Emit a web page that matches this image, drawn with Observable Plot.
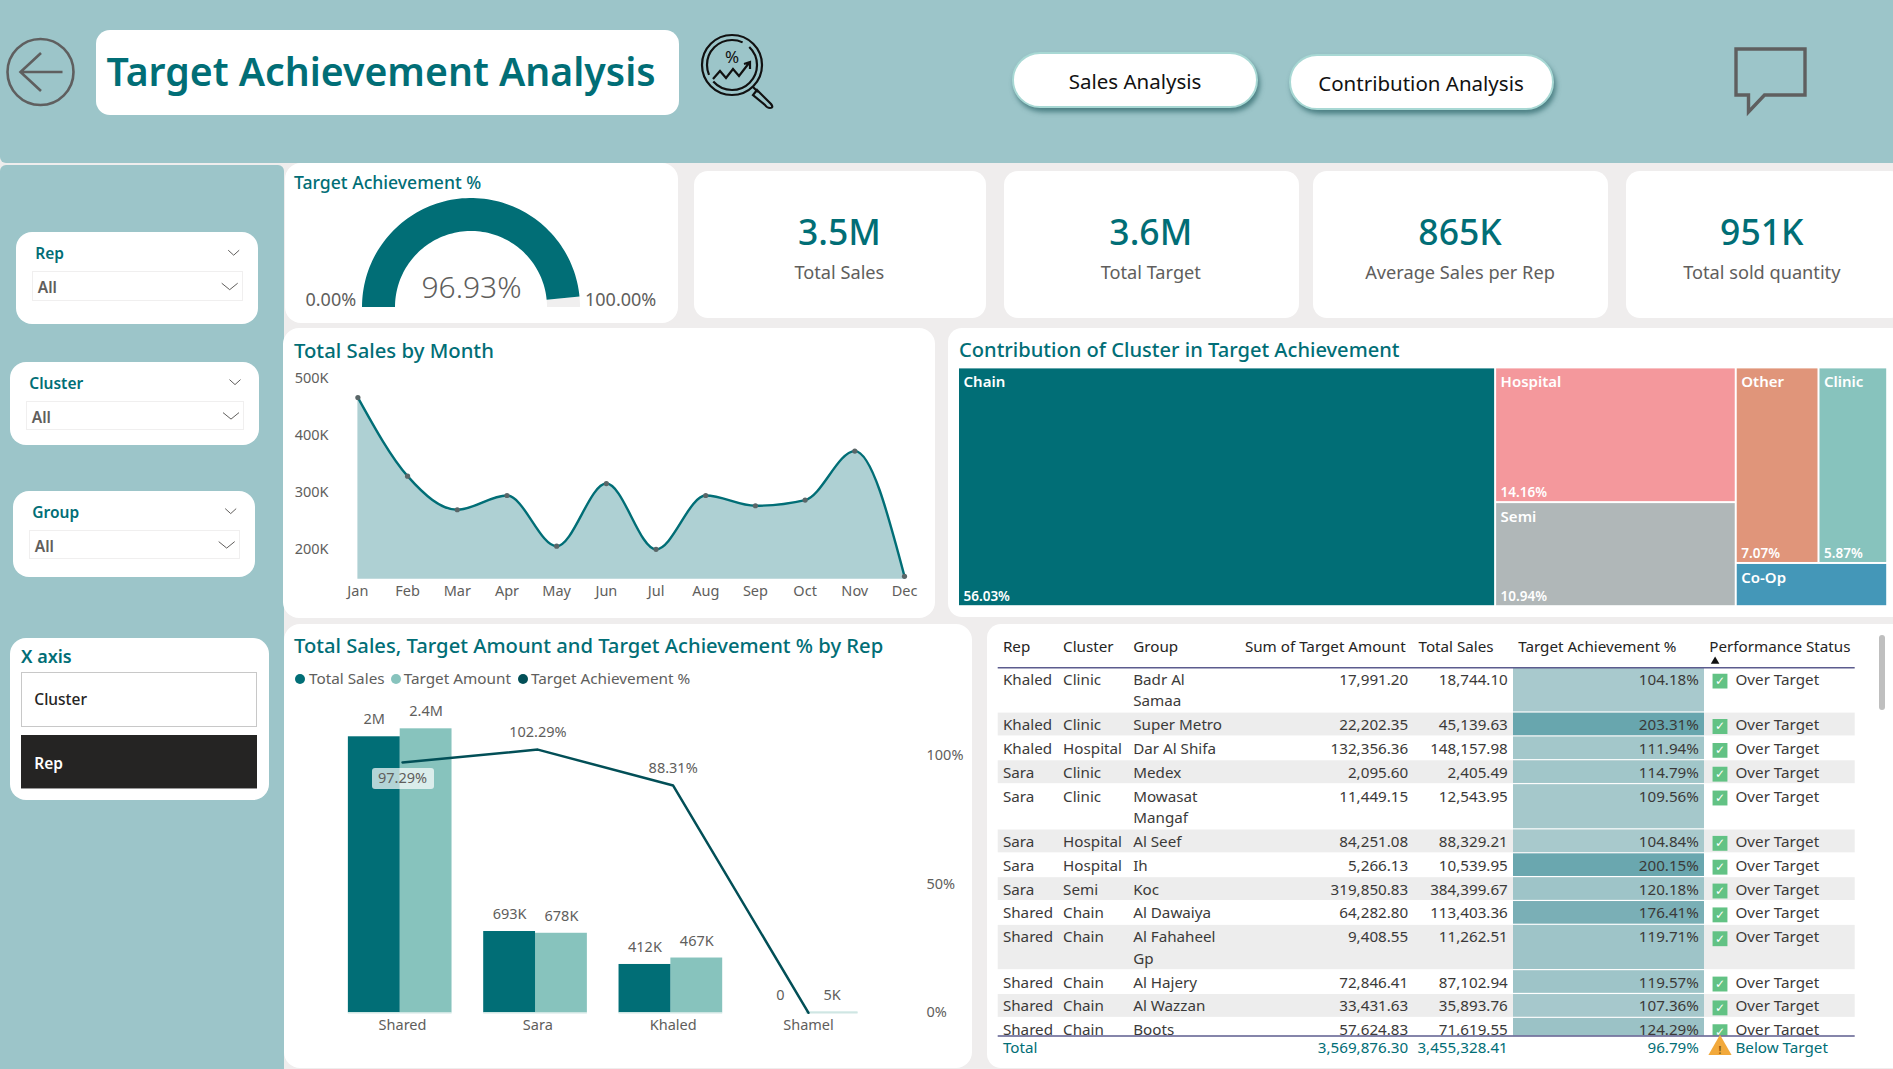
<!DOCTYPE html>
<html><head><meta charset="utf-8">
<script src="https://cdn.jsdelivr.net/npm/d3@7"></script>
<script src="https://cdn.jsdelivr.net/npm/@observablehq/plot@0.6"></script>
<style>
html,body{margin:0;padding:0;background:#efeded;overflow:hidden}
#page{position:relative;width:1893px;height:1069px;overflow:hidden;font-family:"Noto Sans",sans-serif}
.box{position:absolute;box-sizing:border-box}
.t{position:absolute;white-space:nowrap;line-height:1;transform:translateY(-50%)}
svg.plot{position:absolute;background:transparent;max-width:none}
</style></head><body><div id="page"></div>
<script>
// ---------- data ----------
const months=["Jan","Feb","Mar","Apr","May","Jun","Jul","Aug","Sep","Oct","Nov","Dec"];
const monthSales=[467000,329000,270000,295000,206000,316000,200500,295000,277000,287000,373000,153000];
const salesTicks=[200000,300000,400000,500000];
const reps=["Shared","Sara","Khaled","Shamel"];
const repSales=[2353000,693000,412000,0];
const repTarget=[2421000,678000,467000,5000];
const repSalesLabels=["2M","693K","412K","0"];
const repTargetLabels=["2.4M","678K","467K","5K"];
const repPct=[97.29,102.29,88.31,0];
const repPctLabels=["97.29%","102.29%","88.31%",""];
const pctTicks=[0,50,100];
const clusters=["Chain","Hospital","Semi","Other","Clinic","Co-Op"];
const clusterShare=[56.03,14.16,10.94,7.07,5.87,2.86];
const clusterLabels=["56.03%","14.16%","10.94%","7.07%","5.87%",""];
const gaugeValue=96.93, gaugeMin=0, gaugeMax=100;
const kpiValues=["3.5M","3.6M","865K","951K"];
const kpiNames=["Total Sales","Total Target","Average Sales per Rep","Total sold quantity"];
const tableHeaders=["Rep","Cluster","Group","Sum of Target Amount","Total Sales","Target Achievement %","Performance Status"];
const tRep=["Khaled","Khaled","Khaled","Sara","Sara","Sara","Sara","Sara","Shared","Shared","Shared","Shared","Shared"];
const tCluster=["Clinic","Clinic","Hospital","Clinic","Clinic","Hospital","Hospital","Semi","Chain","Chain","Chain","Chain","Chain"];
const tGroup=["Badr Al\nSamaa","Super Metro","Dar Al Shifa","Medex","Mowasat\nMangaf","Al Seef","Ih","Koc","Al Dawaiya","Al Fahaheel\nGp","Al Hajery","Al Wazzan","Boots"];
const tTarget=[17991.20,22202.35,132356.36,2095.60,11449.15,84251.08,5266.13,319850.83,64282.80,9408.55,72846.41,33431.63,57624.83];
const tSales=[18744.10,45139.63,148157.98,2405.49,12543.95,88329.21,10539.95,384399.67,113403.36,11262.51,87102.94,35893.76,71619.55];
const tPct=[104.18,203.31,111.94,114.79,109.56,104.84,200.15,120.18,176.41,119.71,119.57,107.36,124.29];
const tLines=[1.9,1,1,1,1.9,1,1,1,1,1.9,1,1,1];
const totalRow={target:3569876.30,sales:3455328.41,pct:96.79,status:"Below Target"};

// ---------- helpers ----------
const TEAL="#016e76",GRAY="#605e5c",BG="#9cc5c9",FONT='"Noto Sans",sans-serif';
const page=document.getElementById("page");
function box(x0,y0,x1,y1,css=""){const d=document.createElement("div");d.className="box";
 d.style.cssText=`left:${x0}px;top:${y0}px;width:${x1-x0}px;height:${y1-y0}px;${css}`;page.appendChild(d);return d;}
function card(x0,y0,x1,y1,r=14,extra=""){return box(x0,y0,x1,y1,`background:#fff;border-radius:${r}px;${extra}`);}
function txt(s,x,y,size,color,weight=400,anchor="left",extra=""){const d=document.createElement("div");d.className="t";d.textContent=s;
 const tx=anchor==="center"?"translate(-50%,-50%)":anchor==="right"?"translate(-100%,-50%)":"translateY(-50%)";
 d.style.cssText=`left:${x}px;top:${y}px;font-size:${size}px;color:${color};font-weight:${weight};transform:${tx};${extra}`;page.appendChild(d);return d;}
function place(opts,B){const p=Plot.plot({width:B.w,height:B.h,...opts,
 style:{background:"transparent",fontFamily:FONT,fontSize:"14.5px",color:GRAY,overflow:"visible",...(opts.style||{})}});
 p.style.left=B.x+"px";p.style.top=B.y+"px";p.style.position="absolute";page.appendChild(p);return p;}
function svgIcon(html){const w=document.createElement("div");w.innerHTML=`<svg xmlns="http://www.w3.org/2000/svg" width="1893" height="1069" style="position:absolute;left:0;top:0;pointer-events:none">${html}</svg>`;page.appendChild(w.firstChild);}

// ---------- frame ----------
box(0,0,1893,163,`background:${BG};border-radius:0 0 0 6px`);
box(0,165,284,1069,`background:${BG};border-radius:6px 6px 0 0`);
card(96,30,679,115,14);
txt("Target Achievement Analysis",106.5,71,39.2,TEAL,600);
svgIcon(`<g fill="none" stroke="#5f5f5f" stroke-width="2.6">
<circle cx="40.5" cy="72" r="33"/><path d="M62.5 72H21M41 53L20.5 72L41 91"/>
<path d="M1736 49H1805V95H1764.5L1748.5 112V95H1736Z" stroke-width="3.4"/></g>
<g fill="none" stroke="#111" stroke-width="2.2">
<circle cx="732" cy="65" r="30"/><circle cx="732" cy="65" r="25" stroke-dasharray="60 8"/>
<path d="M713 79L720 71L726 78L733 69L739 76L749 63M744 64L750 62L750 69"/>
<path d="M753 87L758 92M757 90L771 104Q774 108 770 108Q767 108 765 105L753 95Z"/>
<text x="732" y="63" font-size="17" font-family="Noto Sans" fill="#111" stroke="none" text-anchor="middle">%</text></g>`);
const pill="background:#fff;border-radius:28px;border:2px solid #a8d8d4;box-shadow:2px 4px 5px rgba(50,105,110,.75);";
box(1012,52,1258,108,pill);txt("Sales Analysis",1135,80.5,20.5,"#111",400,"center");
box(1288.5,53.6,1554,110,pill);txt("Contribution Analysis",1421,82.5,20.5,"#111",400,"center");

// ---------- slicers ----------
const slicers=[
 {n:"Rep",c:[16,232.2,258,324],b:[32.3,271.2,242.7,301.5]},
 {n:"Cluster",c:[10.3,361.9,259.3,444.6],b:[26.3,400.6,244,430.4]},
 {n:"Group",c:[13.3,490.5,255,576.6],b:[29.3,529.6,239.7,559.4]}];
let chev="";
slicers.forEach(s=>{const [x0,y0,x1,y1]=s.c,[a,b,c,d]=s.b;
 card(x0,y0,x1,y1,16);box(a,b,c,d,"border:1.5px solid #f0efef");
 txt(s.n,a+3,b-16.8,15.5,TEAL,600);txt("All",a+5.5,b+17,15.5,GRAY,600);
 chev+=`<path d="M${c-14.5} ${b-21}l5.5 5l5.5-5M${c-21} ${b+12}l8 6.5l8-6.5"/>`;});
svgIcon(`<g fill="none" stroke="#605e5c" stroke-width="1">${chev}</g>`);
card(10.3,637.9,268.7,800.5,16);
txt("X axis",21,655.6,18,TEAL,600);
box(21,672.3,256.7,726.6,"border:1.5px solid #c8c8c8");txt("Cluster",34.3,700,15.5,"#252423",500);
box(21,735,256.7,789.4,"background:#252423;border-bottom:1px solid #999");txt("Rep",34.3,763.5,15.5,"#fff",600);

// ---------- gauge ----------
card(285,163,677.6,323,16);
txt("Target Achievement %",294,182.5,17.6,TEAL,500);
const G={x:285,y:163,w:393,h:160};
const inner=76/109;
function arcPts(from,to,n=90){return d3.range(n+1).map(i=>{const v=from+(to-from)*i/n,a=Math.PI*(1-(v-gaugeMin)/(gaugeMax-gaugeMin));return {c:Math.cos(a),s:Math.sin(a)};});}
place({x:{domain:[-1,1],range:[362-G.x,580-G.x],axis:null},y:{domain:[0,1],range:[307-G.y,198-G.y],axis:null},
 marks:[
 Plot.area(arcPts(gaugeValue,gaugeMax,10),{x1:d=>d.c,y1:d=>d.s,x2:d=>d.c*inner,y2:d=>d.s*inner,fill:"#f0efef"}),
 Plot.area(arcPts(gaugeMin,gaugeValue),{x1:d=>d.c,y1:d=>d.s,x2:d=>d.c*inner,y2:d=>d.s*inner,fill:TEAL})
 ]},G);
txt(gaugeValue.toFixed(2)+"%",471.5,287,30,GRAY,300,"center");
txt(gaugeMin.toFixed(2)+"%",305.5,299.2,18,GRAY,400);
txt(gaugeMax.toFixed(2)+"%",585,299.2,18,GRAY,400);

// ---------- KPIs ----------
const kpiBoxes=[[694,986],[1003.5,1298.8],[1312.6,1607.8],[1625.9,1905]];
const kpiCenters=[839.4,1150.8,1460,1761.8];
kpiBoxes.forEach((b,i)=>{card(b[0],171,b[1],318,14);
 txt(kpiValues[i],kpiCenters[i],231.7,35.5,TEAL,500,"center");
 txt(kpiNames[i],kpiCenters[i],271.5,18.2,GRAY,400,"center");});

// ---------- month chart ----------
card(283.4,328,935,617.7,16);
txt("Total Sales by Month",294,349.5,20.3,TEAL,500);
const M={x:283,y:328,w:652,h:290};
const monthRows=months.map((m,i)=>({month:m,sales:monthSales[i]}));
place({x:{type:"point",padding:0,round:false,domain:months,range:[357.4-M.x,904-M.x],axis:null},
 y:{domain:[148000,500000],range:[578.7-M.y,378.3-M.y],axis:null},
 marginLeft:328-M.x,marginBottom:M.y+M.h-578.7,
 marks:[
 Plot.areaY(monthRows,{x:"month",y1:148000,y2:"sales",curve:"monotone-x",fill:"#aed0d3"}),
 Plot.lineY(monthRows,{x:"month",y:"sales",curve:"monotone-x",stroke:TEAL,strokeWidth:2.4}),
 Plot.dot(monthRows,{x:"month",y:"sales",r:2.6,fill:"#5a6668"}),
 Plot.axisY({ticks:salesTicks,tickFormat:d=>d/1000+"K",tickSize:0,tickPadding:0,label:null}),
 Plot.axisX({tickSize:0,tickPadding:6.5,label:null})
 ]},M);

// ---------- treemap ----------
card(948,328,1910,617,14);
txt("Contribution of Cluster in Target Achievement",959,350,20.1,TEAL,500);
const colors=["#016e76","#f4989c","#b0b7b8","#e0957a","#87c3bd","#4497b8"];
const leaf=n=>({name:n,value:clusterShare[clusters.indexOf(n)],label:clusterLabels[clusters.indexOf(n)],color:colors[clusters.indexOf(n)]});
const tree={children:[leaf("Chain"),{children:[leaf("Hospital"),leaf("Semi")]},{children:[{children:[leaf("Other"),leaf("Clinic")]},leaf("Co-Op")]}]};
const root=d3.hierarchy(tree).sum(d=>d.value||0);
d3.treemap().tile(d3.treemapSliceDice).size([1,1]).round(false)(root);
const leaves=root.leaves().map(n=>({...n.data,x0:n.x0,x1:n.x1,y0:n.y0,y1:n.y1}));
const T={x:950,y:360,w:943,h:254};
place({x:{domain:[0,1],range:[958-T.x,1887.2-T.x],axis:null},y:{domain:[0,1],range:[367.4-T.y,606.2-T.y],axis:null},
 style:{fontSize:"15px",color:"#fff"},
 marks:[
 Plot.rect(leaves,{x1:"x0",x2:"x1",y1:"y0",y2:"y1",fill:"color",inset:1}),
 Plot.text(leaves,{x:"x0",y:"y0",text:"name",textAnchor:"start",dx:5,dy:14.5,fill:"#fff",fontWeight:600,fontSize:15}),
 Plot.text(leaves,{x:"x0",y:"y1",text:"label",textAnchor:"start",dx:5,dy:-10.3,fill:"#fff",fontWeight:600,fontSize:13.5})
 ]},T);

// ---------- rep chart ----------
card(283.6,624,972,1068.3,16);
txt("Total Sales, Target Amount and Target Achievement % by Rep",294,644.5,20.2,TEAL,500);
const legend=[["Total Sales",300,309,TEAL],["Target Amount",395.6,403.7,"#87c3bd"],["Target Achievement %",522.9,530.9,"#024f57"]];
legend.forEach(l=>{box(l[1]-5,674,l[1]+5,684,`background:${l[3]};border-radius:50%`);txt(l[0],l[2],678.5,15.3,GRAY);});
const R={x:283,y:624,w:689,h:444};
const barUnit=0.383;
const salesBars=reps.map((r,i)=>({i,v:repSales[i],l:repSalesLabels[i],a:i-0.017-barUnit,b:i-0.017}));
const targetBars=reps.map((r,i)=>({i,v:repTarget[i],l:repTargetLabels[i],a:i-0.017,b:i-0.017+barUnit}));
const xOpt={domain:[0,3],range:[402-R.x,808-R.x],axis:null};
place({x:xOpt,y:{domain:[0,2500000],range:[1012.3-R.y,1012.3-293.25-R.y],axis:null},
 marginBottom:R.y+R.h-1012.3,
 marks:[
 Plot.rectY(targetBars,{x1:"a",x2:"b",y:"v",fill:"#87c3bd"}),
 Plot.rectY(salesBars,{x1:"a",x2:"b",y:"v",fill:TEAL}),
 Plot.ruleY(targetBars.concat(salesBars).filter(d=>d.v>0),{x1:"a",x2:"b",y:()=>0,stroke:"#cfe6e3",strokeWidth:1.6}),
 Plot.text(salesBars,{x:d=>(d.a+d.b)/2,y:"v",text:"l",dy:-17,fill:GRAY}),
 Plot.text(targetBars,{x:d=>(d.a+d.b)/2,y:"v",text:"l",dy:-17,fill:GRAY}),
 Plot.axisX({ticks:[0,1,2,3],tickFormat:i=>reps[i],tickSize:0,tickPadding:7,label:null})
 ]},R);
box(371.5,768.3,433.6,788.7,"background:rgba(255,255,255,.7);border-radius:3px");
const pctRows=reps.map((r,i)=>({i,v:repPct[i],l:repPctLabels[i]}));
place({x:xOpt,y:{domain:[0,100],range:[1012.3-R.y,1012.3-257.3-R.y],axis:null},
 marginRight:R.x+R.w-926,
 marks:[
 Plot.lineY(pctRows,{x:"i",y:"v",stroke:"#024f57",strokeWidth:2.5}),
 Plot.text(pctRows.slice(1,3),{x:"i",y:"v",text:"l",dy:-17,fill:GRAY}),
 Plot.text(pctRows.slice(0,1),{x:"i",y:"v",text:"l",dy:16,fill:GRAY}),
 Plot.axisY({anchor:"right",ticks:pctTicks,tickFormat:d=>d+"%",tickSize:0,tickPadding:0,label:null})
 ]},R);

// ---------- table ----------
card(986.7,624,1910,1068.3,14);
const tops=[0,...d3.cumsum(tLines)];
const rows=tRep.map((r,i)=>({i,rep:r,cluster:tCluster[i],group:tGroup[i],target:tTarget[i],sales:tSales[i],pct:tPct[i],top:tops[i],bot:tops[i+1]}));
const fmt=d3.format(",.2f");
const unit=23.85, textOff=1.6;
const TB={x:0,y:624,w:1893,h:444.3};
const INK="#3b3a39",HEAD="#252423";
const colText=(key,x,anchor="start",f=d=>d[key])=>Plot.text(rows,{x:()=>x,y:"top",text:f,textAnchor:anchor,lineAnchor:"top",dy:textOff,lineHeight:1.42,fill:INK,clip:true});
const colX={rep:1002.4,cluster:1062.6,group:1132.7,target:1407.7,sales:1507.3,pct:1698.4,status:1735};
const headX=[1002.4,1062.6,1132.7,1244.4,1418,1517.7,1708.8];
const headRows=tableHeaders.map((h,i)=>({h,x:headX[i]}));
place({x:{type:"identity",axis:null},
 y:{domain:[0,tops[tops.length-1]],range:[43.3,43.3+tops[tops.length-1]*unit],axis:null},
 color:{type:"linear",domain:[100,205],range:["#abcbce","#67a5ad"]},
 marginTop:43.3,marginBottom:TB.h-411.5,marginLeft:0,marginRight:0,
 style:{fontSize:"15.2px",color:INK,overflow:"hidden"},
 marks:[
 Plot.rect(rows.filter(d=>d.i%2===1),{x1:()=>997.7,x2:()=>1854.7,y1:"top",y2:"bot",insetBottom:1,fill:"#ededed",clip:true}),
 Plot.rect(rows,{x1:()=>1513,x2:()=>1704,y1:"top",y2:"bot",insetBottom:1.2,fill:"pct",clip:true}),
 colText("rep",colX.rep),colText("cluster",colX.cluster),colText("group",colX.group),
 colText("target",colX.target,"end",d=>fmt(d.target)),
 colText("sales",colX.sales,"end",d=>fmt(d.sales)),
 colText("pct",colX.pct,"end",d=>d.pct.toFixed(2)+"%"),
 Plot.dot(rows,{x:()=>1719.5,y:d=>d.top+0.56,symbol:"square",r:8.4,fill:"#62c284",clip:true}),
 Plot.text(rows,{x:()=>1719.5,y:d=>d.top+0.56,text:()=>"✓",fill:"#fff",fontFamily:"DejaVu Sans",fontSize:12,clip:true}),
 colText("status",colX.status,"start",()=>"Over Target"),
 Plot.text(headRows,{x:"x",y:()=>-0.865,text:"h",textAnchor:"start",fill:HEAD}),
 Plot.dot([0],{x:()=>1714.6,y:()=>-0.27,symbol:"triangle",r:3.2,fill:"#111"}),
 Plot.ruleY([0,368.2/unit],{x1:()=>997.7,x2:()=>1854.7,stroke:"#5c5c8e",strokeWidth:1.4}),
 Plot.text(["Total"],{x:()=>colX.rep,y:()=>15.96,text:d=>d,textAnchor:"start",fill:TEAL}),
 Plot.text([totalRow],{x:()=>colX.target,y:()=>15.96,text:d=>fmt(d.target),textAnchor:"end",fill:TEAL}),
 Plot.text([totalRow],{x:()=>colX.sales,y:()=>15.96,text:d=>fmt(d.sales),textAnchor:"end",fill:TEAL}),
 Plot.text([totalRow],{x:()=>colX.pct,y:()=>15.96,text:d=>d.pct.toFixed(2)+"%",textAnchor:"end",fill:TEAL}),
 Plot.dot([0],{x:()=>1719.5,y:()=>15.95,symbol:"triangle",r:8.6,fill:"#f2a93b"}),
 Plot.text(["!"],{x:()=>1719.5,y:()=>16.05,text:d=>d,fill:"#8a5a10",fontSize:10,fontWeight:700}),
 Plot.text([totalRow],{x:()=>colX.status,y:()=>15.96,text:"status",textAnchor:"start",fill:TEAL})
 ]},TB);
box(1878.5,635,1885,710,"background:#bfbfbf;border-radius:4px");
</script></body></html>
